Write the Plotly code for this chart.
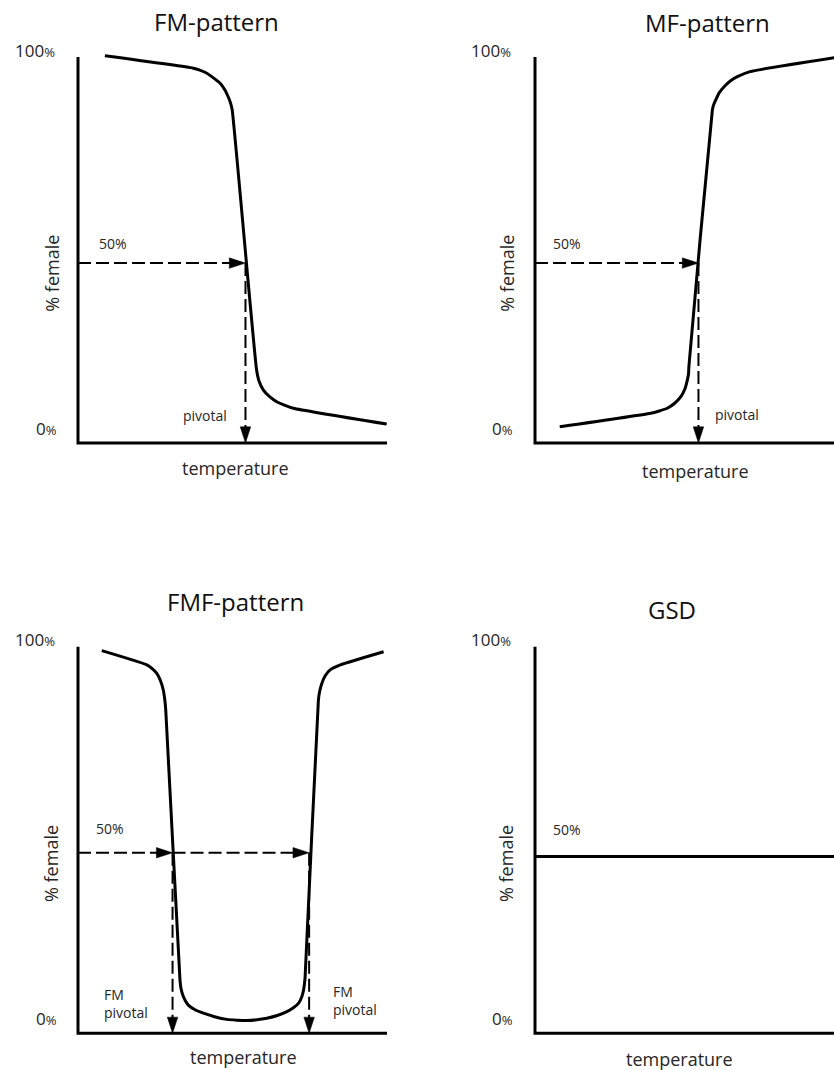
import plotly.graph_objects as go

# ---------------- data ----------------
PANEL_TITLES = ["FM-pattern", "MF-pattern", "FMF-pattern", "GSD"]
Y_TICK_LABELS = ["100", "0"]
X_LABEL = "temperature"
Y_LABEL = "% female"

FM_X = [8.7, 37.3, 39.4, 41.7, 43.8, 46.0, 47.6, 48.6, 49.4, 49.9, 57.8, 58.6, 60.0, 62.0, 64.3, 66.8, 69.7, 99.9]
FM_Y = [100.3, 97.1, 96.6, 95.8, 94.6, 93.2, 91.4, 89.7, 88.0, 86.3, 18.9, 16.0, 13.7, 12.0, 10.7, 9.8, 9.0, 4.9]

MF_X = [8.0, 37.4, 40.2, 42.8, 45.2, 47.2, 48.5, 49.3, 49.7, 49.8, 57.4, 57.8, 58.5, 59.6, 61.2, 63.2, 65.5, 69.6, 100.0]
MF_Y = [4.2, 7.7, 8.3, 9.0, 10.3, 12.0, 14.0, 16.3, 18.0, 19.8, 86.3, 87.6, 88.9, 90.7, 92.3, 93.8, 94.9, 96.2, 100.2]

FMF_X = [7.7, 22.3, 24.0, 25.5, 26.7, 27.6, 28.1, 28.4, 33.0, 33.3, 33.9, 34.7, 35.7, 37.9, 40.6, 44.2, 48.2, 51.4, 54.6,
         57.9, 61.1, 64.5, 67.6, 69.7, 71.4, 72.4, 73.0, 73.3, 73.5, 77.8, 78.2, 78.9, 80.0, 81.6, 84.9, 98.9]
FMF_Y = [99.0, 95.3, 94.3, 93.1, 91.2, 88.8, 86.2, 83.6, 13.8, 11.7, 9.9, 8.5, 7.3, 6.1, 5.2, 4.3, 3.6, 3.4, 3.3,
         3.5, 3.9, 4.6, 5.6, 6.6, 7.8, 9.4, 11.2, 12.9, 14.6, 86.2, 88.4, 90.5, 92.5, 94.0, 95.3, 98.7]

GSD_X = [0, 100]
GSD_Y = [45.7, 45.7]

LEVEL_50 = [46.6, 46.6, 46.7, 45.7]       # height of the "50%" level per panel
PIVOTS = [[54.2], [52.9], [30.6, 74.8], []]

CURVES_X = [FM_X, MF_X, FMF_X, GSD_X]
CURVES_Y = [FM_Y, MF_Y, FMF_Y, GSD_Y]

# ---------------- layout geometry (pixels) ----------------
W, H = 834, 1070
PAD = 10
# (axis origin x, axis end x, axis origin y, axis top y)
PANELS = [
    (78, 387, 443, 57),
    (535, 844, 443, 57),
    (78, 387, 1033.3, 646.7),
    (535, 844, 1033.3, 646.7),
]

FONT = "'Open Sans', Lato, sans-serif"
TXT = "#262626"
INK = "#000000"
DASH = "13px,5px"

fig = go.Figure()
layout = dict(width=W, height=H, autosize=False,
              margin=dict(l=0, r=0, t=0, b=0),
              paper_bgcolor="white", plot_bgcolor="white",
              showlegend=False, font=dict(family=FONT, color=TXT))
annotations = []


def px_to_paper(px, py):
    return px / W, (H - py) / H


for i, (ox, xe, oy, yt) in enumerate(PANELS):
    n = "" if i == 0 else str(i + 1)
    xa, ya = "x" + n, "y" + n
    wpx, hpx = xe - ox, oy - yt
    right_px = min(xe + PAD, W)
    x_dom = [(ox - PAD) / W, right_px / W]
    y_dom = [(H - (oy + PAD)) / H, (H - (yt - PAD)) / H]
    x_rng = [-PAD / wpx * 100, (right_px - ox) / wpx * 100]
    y_rng = [-PAD / hpx * 100, 100 + PAD / hpx * 100]
    layout["xaxis" + n] = dict(domain=x_dom, range=x_rng, visible=False, anchor=ya, fixedrange=True)
    layout["yaxis" + n] = dict(domain=y_dom, range=y_rng, visible=False, anchor=xa, fixedrange=True)

    # axes (drawn as lines in data space)
    fig.add_trace(go.Scatter(x=[0, 0, 100], y=[100, 0, 0], mode="lines", xaxis=xa, yaxis=ya,
                             line=dict(color=INK, width=3), hoverinfo="skip"))
    # curve
    fig.add_trace(go.Scatter(x=CURVES_X[i], y=CURVES_Y[i], mode="lines", xaxis=xa, yaxis=ya,
                             line=dict(color=INK, width=3, shape="spline", smoothing=0.5),
                             hoverinfo="skip"))

    lvl = LEVEL_50[i]
    prev = 0
    for p in PIVOTS[i]:
        # horizontal dashed arrow to the curve
        fig.add_trace(go.Scatter(x=[prev, p], y=[lvl, lvl], mode="lines+markers", xaxis=xa, yaxis=ya,
                                 line=dict(color=INK, width=2, dash=DASH),
                                 marker=dict(symbol="arrow", size=[0, 17], angleref="previous",
                                             color=INK, opacity=1, line=dict(width=0.5, color=INK)),
                                 hoverinfo="skip"))
        # vertical dashed arrow to the axis
        fig.add_trace(go.Scatter(x=[p, p], y=[lvl, 0], mode="lines+markers", xaxis=xa, yaxis=ya,
                                 line=dict(color=INK, width=2, dash=DASH),
                                 marker=dict(symbol="arrow", size=[0, 17], angleref="previous",
                                             color=INK, opacity=1, line=dict(width=0.5, color=INK)),
                                 hoverinfo="skip"))
        prev = p

# ---------------- text ----------------
TITLE_POS = [(216.7, 21.7), (707.3, 22.5), (235, 601.7), (672.3, 609.3)]
YLAB_POS = [(51.7, 273), (506.7, 273), (51.7, 863.3), (506.7, 863.3)]
XLAB_POS = [(235, 468.3), (695.7, 470.7), (243.3, 1057.3), (679.7, 1059)]
TOP_TICK_POS = [(57, 50), (513, 50), (57, 639.3), (513, 639.3)]
BOT_TICK_POS = [(59, 428), (515, 428), (59, 1018.3), (515, 1018.3)]

for i in range(4):
    x, y = px_to_paper(*TITLE_POS[i])
    annotations.append(dict(x=x, y=y, xref="paper", yref="paper", text=PANEL_TITLES[i],
                            showarrow=False, xanchor="center", yanchor="middle",
                            font=dict(size=24, color="#111111")))
    x, y = px_to_paper(*YLAB_POS[i])
    annotations.append(dict(x=x, y=y, xref="paper", yref="paper", text=Y_LABEL, textangle=-90,
                            showarrow=False, xanchor="center", yanchor="middle",
                            font=dict(size=18)))
    x, y = px_to_paper(*XLAB_POS[i])
    annotations.append(dict(x=x, y=y, xref="paper", yref="paper", text=X_LABEL,
                            showarrow=False, xanchor="center", yanchor="middle",
                            font=dict(size=18)))
    for lab, pos in zip(Y_TICK_LABELS, [TOP_TICK_POS[i], BOT_TICK_POS[i]]):
        x, y = px_to_paper(*pos)
        annotations.append(dict(x=x, y=y, xref="paper", yref="paper",
                                text=lab + "<span style='font-size:13px'>%</span>",
                                showarrow=False, xanchor="right", yanchor="middle",
                                font=dict(size=17)))

# in-plot labels (data coordinates)
IN_LABELS = [
    (0, 11.4, 51.7, "50%", "center"),
    (0, 41.1, 7.0, "pivotal", "center"),
    (1, 10.3, 51.7, "50%", "center"),
    (1, 65.5, 7.5, "pivotal", "center"),
    (2, 10.4, 53.1, "50%", "center"),
    (2, 7.7, 7.6, "FM<br>pivotal", "left"),
    (2, 82.0, 8.6, "FM<br>pivotal", "left"),
    (3, 10.3, 52.8, "50%", "center"),
]
for (pi, x, y, t, anc) in IN_LABELS:
    n = "" if pi == 0 else str(pi + 1)
    annotations.append(dict(x=x, y=y, xref="x" + n, yref="y" + n, text=t, showarrow=False,
                            xanchor=anc, yanchor="middle", align="left",
                            font=dict(size=14)))

layout["annotations"] = annotations
fig.update_layout(**layout)
fig.write_html("out.html", config={"displayModeBar": False},
               post_script="document.body.style.margin='0';document.body.style.padding='0';")
